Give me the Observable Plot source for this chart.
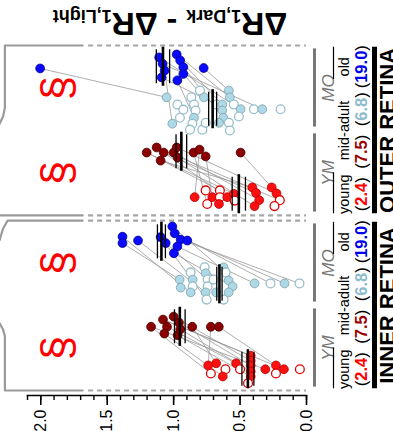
<!DOCTYPE html>
<html>
<head>
<meta charset="utf-8">
<script src="https://cdn.jsdelivr.net/npm/d3@7"></script>
<script src="https://cdn.jsdelivr.net/npm/@observablehq/plot@0.6"></script>
<style>
  body { margin: 0; background: #fff; }
  #chart svg { display: block; font-family: "Liberation Sans", Arial, sans-serif; overflow: visible; }
</style>
</head>
<body>
<div id="chart"></div>
<script>
// Each point: [ΔR1,Dark − ΔR1,Light, jitter within its column (slot units), open marker]
const innerYMyoung = [
  [0.74, 0.045], [0.68, 0.07], [0.72, -0.05, 1], [0.61, 0, 1], [0.63, -0.085], [0.53, 0.07], [0.50, 0, 1],
  [0.42, 0.16], [0.42, 0.10], [0.42, 0.045], [0.42, -0.025], [0.42, -0.085], [0.44, -0.165, 1],
  [0.31, 0], [0.23, 0.045], [0.23, -0.05, 1], [0.17, 0], [0.05, 0, 1]
];
const innerYMmid = [
  [1.17, 0], [1.08, 0.085], [1.05, 0], [1.07, -0.08], [1.00, 0.12], [0.97, -0.10],
  [0.95, -0.03], [0.86, 0], [0.72, 0], [0.66, 0], [0.96, 0.05]
];
const innerMOmid = [
  [0.955, 0.055], [0.947, -0.04], [0.872, 0.14, 1], [0.857, 0.055], [0.857, -0.025, 1], [0.872, -0.095],
  [0.767, 0.2, 1], [0.759, 0.13], [0.744, 0.055, 1], [0.744, -0.025, 1], [0.759, -0.095], [0.752, -0.18, 1],
  [0.70, 0.055, 1], [0.624, 0.2], [0.609, 0.14, 1], [0.586, 0.045], [0.556, -0.025], [0.586, -0.095],
  [0.624, -0.18, 1], [0.391, 0.01], [0.271, 0.01, 1], [0.165, 0.01], [0.053, 0.01, 1], [0.68, -0.095]
];
const innerMOold = [
  [1.385, 0.06], [1.385, -0.015], [1.268, 0.015], [1.098, 0.055], [1.06, -0.015], [1.01, 0.18],
  [0.992, 0.10], [0.947, 0.025], [0.897, 0.015], [0.972, -0.055], [0.998, -0.135]
];
const outerYMyoung = [
  [0.842, -0.035], [0.759, 0.045, 1], [0.747, -0.115, 1], [0.709, -0.035], [0.652, 0.045, 1], [0.652, -0.035, 1],
  [0.659, -0.115], [0.596, -0.035], [0.547, 0.005], [0.541, -0.075, 1], [0.408, 0.08], [0.38, 0.015],
  [0.356, -0.07], [0.391, -0.14], [0.262, 0.08], [0.226, 0.01], [0.201, -0.07, 1], [0.241, -0.14, 1]
];
const outerYMmid = [
  [1.203, -0.01], [1.128, 0.05], [1.098, -0.105], [1.075, -0.01], [1.0, -0.01], [0.977, 0.05],
  [0.97, -0.07], [0.85, -0.01], [0.805, 0.025], [0.759, -0.055], [0.496, -0.01]
];
const outerMOmid = [
  [1.053, 0.14], [1.010, -0.17], [0.972, 0.055, 1], [0.927, -0.005, 1], [0.953, -0.1, 1], [0.867, 0.14, 1],
  [0.847, 0.055, 1], [0.835, -0.015, 1], [0.847, -0.1], [0.859, -0.17, 1], [0.877, -0.24, 1], [0.802, 0.22, 1],
  [0.772, 0.14], [0.784, -0.24, 1], [0.759, -0.16, 1], [0.677, 0.055, 1], [0.634, 0.055], [0.634, -0.015],
  [0.626, -0.1], [0.659, -0.16], [0.584, 0.22], [0.577, 0.14], [0.547, 0.055, 1], [0.496, 0],
  [0.509, -0.085, 1], [0.584, -0.16, 1], [0.577, -0.25, 1], [0.396, 0, 1], [0.333, 0], [0.195, 0, 1]
];
const outerMOold = [
  [2.005, -0.02], [1.109, 0.11], [1.083, 0.035], [1.068, -0.045], [1.09, -0.125], [0.977, 0.145],
  [0.951, 0.075], [0.927, -0.005], [0.927, -0.085], [0.972, -0.16], [0.774, -0.015]
];

// Paired measurements: [index in first column, index in second column]
const innerYMlinks = [[0,8],[1,7],[2,0],[4,3],[5,2],[7,1],[8,4],[9,10],[10,6],[11,5],[13,0],[14,9],[16,1]];
const innerMOlinks = [[21,8],[22,7],[19,9],[20,6],[5,0],[0,1],[10,2],[11,3],[8,4],[14,5],[16,10]];
const outerYMlinks = [[14,10],[3,9],[0,8],[2,7],[4,0],[7,1],[10,2],[11,3],[12,4],[15,5],[13,6],[8,0],[16,1]];
const outerMOlinks = [[0,0],[1,3],[23,1],[28,2],[15,4],[21,5],[16,6],[18,7],[12,8],[8,9],[20,10]];

// Half-width of the error lines drawn around each column mean
const meanSpread = [0.045, 0.04, 0.02, 0.03, 0.05, 0.04, 0.03, 0.05];

// Labels
const groupCodes = ["YM", "MO", "YM", "MO"];
const ageWords = ["young", "mid-adult", "old"];
const ageYears = ["2.4", "7.5", "6.8", "19.0"];
const retinaNames = ["INNER RETINA", "OUTER RETINA"];
const axisTicks = [0, 0.5, 1, 1.5, 2];

// ---- layout (slot units along the category direction) ----
const panelBase = [0, 2.06];
const groupBase = [0, 1, 2.06, 3.06];
const columns = [
  {pts: innerYMyoung, group: 0, sub: 0, kind: "young"},
  {pts: innerYMmid,   group: 0, sub: 1, kind: "midYM"},
  {pts: innerMOmid,   group: 1, sub: 0, kind: "midMO"},
  {pts: innerMOold,   group: 1, sub: 1, kind: "old"},
  {pts: outerYMyoung, group: 2, sub: 0, kind: "young"},
  {pts: outerYMmid,   group: 2, sub: 1, kind: "midYM"},
  {pts: outerMOmid,   group: 3, sub: 0, kind: "midMO"},
  {pts: outerMOold,   group: 3, sub: 1, kind: "old"}
];
const groupLinks = [innerYMlinks, innerMOlinks, outerYMlinks, outerMOlinks];

const look = {
  young: {fill: "#ff1010", stroke: "#b00000", open: "#e00000"},
  midYM: {fill: "#8b0000", stroke: "#4a0000", open: "#8b0000"},
  midMO: {fill: "#add8e6", stroke: "#7d9ea9", open: "#97bfcc"},
  old:   {fill: "#0a0aff", stroke: "#00008b", open: "#0a0aff"}
};
const yearColors = ["#ff0000", "#9b0000", "#8fbccc", "#0000ee"];

const slotOf = (c) => groupBase[c.group] + (c.sub ? 0.75 : 0.25);

const points = columns.flatMap((c) => c.pts.map(([v, j, open]) => ({
  v, y: slotOf(c) + j, open: !!open, kind: c.kind
})));
const links = groupLinks.flatMap((pairs, g) => {
  const a = columns[g * 2], b = columns[g * 2 + 1];
  return pairs.map(([i, k]) => ({
    v1: a.pts[i][0], y1: slotOf(a) + a.pts[i][1],
    v2: b.pts[k][0], y2: slotOf(b) + b.pts[k][1]
  }));
});
const means = columns.map((c, i) => ({
  v: d3.mean(c.pts, (d) => d[0]), y: slotOf(c), s: meanSpread[i]
}));
const meanEdges = means.flatMap((m) => [{v: m.v - m.s, y: m.y}, {v: m.v + m.s, y: m.y}]);

const groups = groupBase.map((b, i) => ({b, code: groupCodes[i]}));
const wordRows = panelBase.flatMap((b) => ageWords.map((t, i) => ({t, y: b + [0.25, 1, 1.75][i]})));
const yearRows = panelBase.flatMap((b) => ageYears.map((t, i) => ({t, y: b + 0.25 + 0.5 * i, c: yearColors[i]})));
const underRows = panelBase.flatMap((b) => [{y1: b + 0.02, y2: b + 0.5}, {y1: b + 1.6, y2: b + 1.98}]);
const panels = panelBase.map((b, i) => ({b, name: retinaNames[i]}));

// panel rims: solid part on the left, dashed across the data area
const rimSolid = [
  [[1.685, 4.06], [2.27, 4.06], [2.27, 3.33], [2.283, 3.23], [2.31, 3.14]],
  [[1.685, 2.06], [2.31, 2.06]],
  [[1.685, 2.0], [2.25, 2.0], [2.285, 1.9], [2.31, 1.77]],
  [[1.685, 0], [2.27, 0], [2.27, 0.64], [2.285, 0.72], [2.31, 0.79]]
].flatMap((path, k) => path.map(([v, u]) => ({v, u, k})));
const rimDashed = [4.06, 2.06, 2.0, 0];

const chart = Plot.plot({
  width: 393,
  height: 431,
  marginTop: 45,
  marginBottom: 36,
  marginLeft: 27,
  marginRight: 87,
  x: {domain: [2.1, 0]},
  y: {domain: [0, 4.06], insetBottom: 5, axis: null},
  color: {type: "identity"},
  marks: [
    Plot.line(rimSolid, {x: "v", y: "u", z: "k", stroke: "#9a9a9a", strokeWidth: 2.2}),
    Plot.ruleY(rimDashed, {y: (d) => d, x1: 1.64, x2: 0, stroke: "#a6a6a6", strokeWidth: 2.2, strokeDasharray: "5,4"}),
    Plot.text(groups, {x: 1.87, y: (d) => d.b + 0.5, text: () => "§", rotate: -90, fontSize: 44, fill: "#ff0000"}),
    Plot.link(links, {x1: "v1", y1: "y1", x2: "v2", y2: "y2", stroke: "#999", strokeWidth: 0.8}),
    Plot.dot(points, {
      x: "v", y: "y", r: 4.4,
      fill: (d) => d.open ? "#ffffff" : look[d.kind].fill,
      stroke: (d) => d.open ? look[d.kind].open : look[d.kind].stroke,
      strokeWidth: (d) => d.open ? 1.3 : 0.8
    }),
    Plot.ruleX(means, {x: "v", y1: (d) => d.y - 0.23, y2: (d) => d.y + 0.23, stroke: "#000", strokeWidth: 2.6}),
    Plot.ruleX(meanEdges, {x: "v", y1: (d) => d.y - 0.2, y2: (d) => d.y + 0.2, stroke: "#000", strokeWidth: 1.3}),
    // value axis
    Plot.frame({anchor: "bottom", stroke: "#000", strokeWidth: 1.6}),
    Plot.axisX(d3.range(0, 22).map((i) => i / 10), {tickSize: 5, tickFormat: () => "", strokeWidth: 1.4}),
    Plot.axisX(axisTicks, {tickSize: 10, tickRotate: -90, tickPadding: 4, tickFormat: d3.format(".1f"), fontSize: 16, fill: "#000", strokeWidth: 1.6}),
    // category annotations to the right of the plot
    Plot.ruleX(groups, {x: 0, y1: (d) => d.b + 0.04, y2: (d) => d.b + 0.96, dx: 8, stroke: "#777", strokeWidth: 3}),
    Plot.text(groups, {x: 0, y: (d) => d.b + 0.5, text: "code", rotate: -90, dx: 22, fontSize: 17, fontStyle: "italic", fill: "#777"}),
    Plot.ruleX(underRows, {x: 0, y1: "y1", y2: "y2", dx: 27, stroke: "#000", strokeWidth: 1.2}),
    Plot.text(wordRows, {x: 0, y: "y", text: "t", rotate: -90, dx: 38, fontSize: 14.5, fill: "#000"}),
    Plot.text(yearRows, {x: 0, y: "y", text: "t", rotate: -90, dx: 55, fontSize: 16.5, fill: "#000"}),
    Plot.ruleX(panels, {x: 0, y1: (d) => d.b + 0.02, y2: (d) => d.b + 1.98, dx: 68, stroke: "#000", strokeWidth: 5}),
    Plot.text(panels, {x: 0, y: (d) => d.b + 1, text: "name", rotate: -90, dx: 81, fontSize: 22, fontWeight: "bold", fill: "#000"})
  ]
});

document.getElementById("chart").append(chart);

// Ages in years: parentheses in black, number bold in the age-group colour
const yearColour = new Map(ageYears.map((t, i) => [t, yearColors[i]]));
d3.select(chart).selectAll("text")
  .filter(function () { return yearColour.has(this.textContent); })
  .each(function () {
    const value = this.textContent;
    const t = d3.select(this).text(null);
    t.append("tspan").text("(");
    t.append("tspan").attr("font-weight", "bold").attr("fill", yearColour.get(value)).text(value);
    t.append("tspan").text(")");
  });

// Quantity label, set upside down along the top edge
const title = d3.select(chart).append("text")
  .attr("transform", "translate(170,13) rotate(180)")
  .attr("text-anchor", "middle")
  .attr("font-weight", "bold")
  .attr("font-size", 32)
  .attr("fill", "#000");
title.append("tspan").text("ΔR");
title.append("tspan").attr("font-size", 18).attr("dy", 3).text("1,Dark");
title.append("tspan").attr("dy", -3).text(" - ΔR");
title.append("tspan").attr("font-size", 18).attr("dy", 3).text("1,Light");
</script>
</body>
</html>
